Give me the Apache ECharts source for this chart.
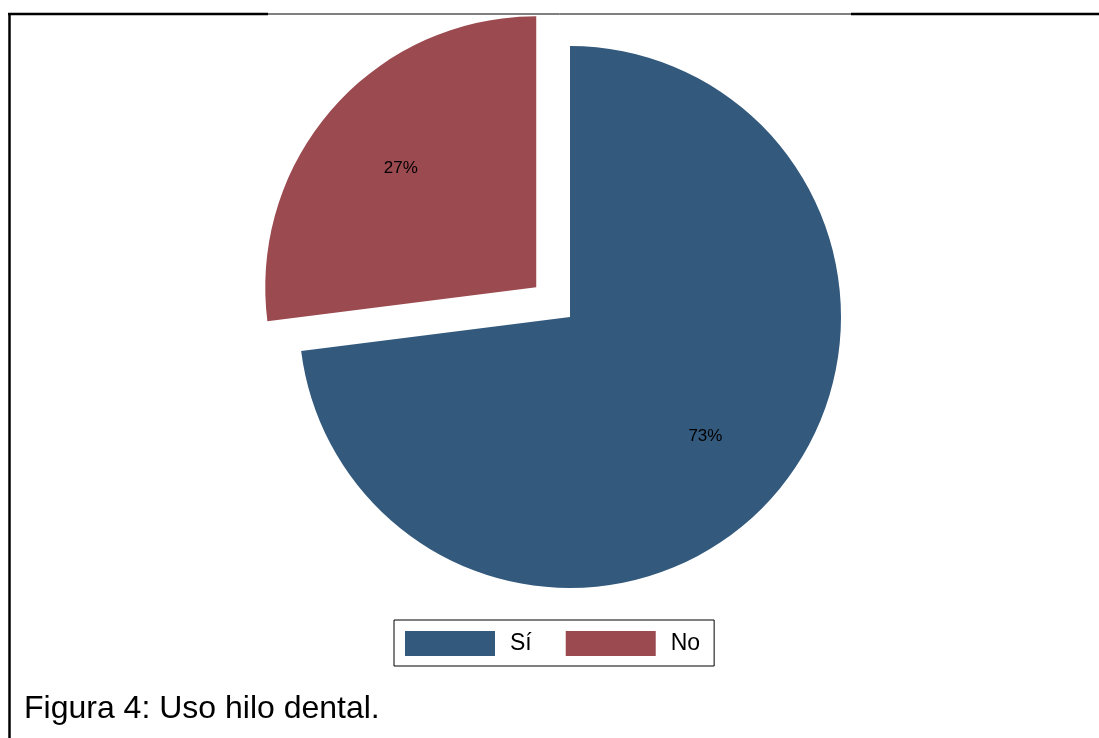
<!DOCTYPE html>
<html>
<head>
<meta charset="utf-8">
<script src="https://cdn.jsdelivr.net/npm/echarts@6/dist/echarts.min.js"></script>
<style>
html,body{margin:0;padding:0;background:#fff;}
#c{width:1099px;height:738px;}
</style>
</head>
<body>
<div id="c"></div>
<script>
const categories = ['Sí', 'No'];
const values = [73, 27];
const colors = ['#33597d', '#9b4a50'];
const exploded = [false, true];
const caption = 'Figura 4: Uso hilo dental.';

const chart = echarts.init(document.getElementById('c'), null, {renderer: 'canvas'});
const R = 271;
const data = categories.map((c, i) => ({
  name: c, value: values[i], selected: exploded[i],
  itemStyle: {color: colors[i]}
}));
const labelData = categories.map((c, i) => ({
  name: c, value: values[i], selected: exploded[i],
  itemStyle: {color: 'rgba(0,0,0,0)'}
}));
chart.setOption({
  animation: false,
  legend: {
    data: categories,
    left: 394, top: 620,
    orient: 'horizontal',
    padding: [11, 14, 10, 11],
    borderColor: '#000', borderWidth: 1,
    backgroundColor: '#fff',
    itemWidth: 90, itemHeight: 25, itemGap: 34,
    icon: 'rect',
    selectedMode: false,
    textStyle: {fontFamily: 'Liberation Sans', fontSize: 23, color: '#000', padding: [0, 0, 0, 10]}
  },
  series: [{
    type: 'pie',
    center: [570, 317],
    radius: [0, R],
    startAngle: 90,
    clockwise: true,
    selectedMode: 'single',
    selectedOffset: 45,
    label: {show: false},
    labelLine: {show: false},
    emphasis: {disabled: true},
    data: data
  }, {
    type: 'pie',
    center: [570, 317],
    radius: [0, R * 1.31],
    startAngle: 90,
    clockwise: true,
    selectedMode: 'single',
    selectedOffset: 45,
    silent: true,
    label: {show: true, position: 'inside', formatter: p => p.value + '%',
      fontFamily: 'Liberation Sans', fontSize: 17, color: '#000', padding: [7, 0, 0, 0]},
    labelLine: {show: false},
    emphasis: {disabled: true},
    data: labelData
  }],
  graphic: [
    {type: 'line', shape: {x1: 8, y1: 14, x2: 268, y2: 14}, style: {stroke: '#000', lineWidth: 2.5}, z: 100},
    {type: 'line', shape: {x1: 268, y1: 14, x2: 851, y2: 14}, style: {stroke: '#000', lineWidth: 1}, z: 100},
    {type: 'line', shape: {x1: 851, y1: 14, x2: 1099, y2: 14}, style: {stroke: '#000', lineWidth: 2.5}, z: 100},
    {type: 'line', shape: {x1: 9.5, y1: 13, x2: 9.5, y2: 738}, style: {stroke: '#000', lineWidth: 2.5}, z: 100},
    {type: 'text', left: 24, top: 693, style: {text: caption, fontFamily: 'Liberation Sans', fontSize: 32, fill: '#000'}, z: 100}
  ]
});
</script>
</body>
</html>
